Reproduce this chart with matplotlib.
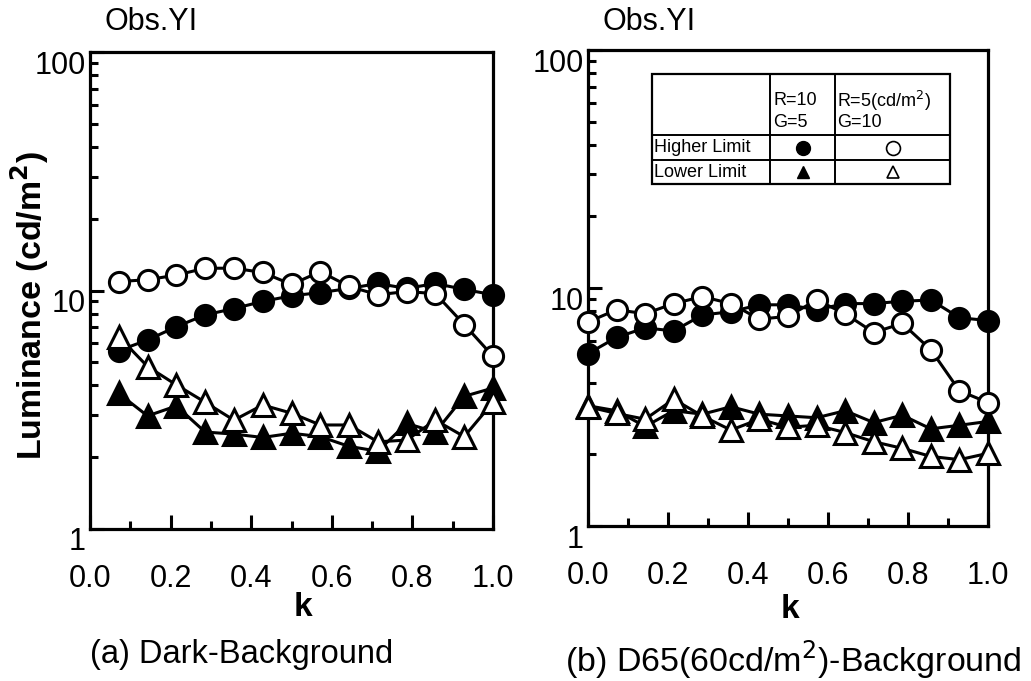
import matplotlib
matplotlib.use("Agg")
import matplotlib.pyplot as plt
import matplotlib.transforms as mtransforms
from matplotlib.ticker import LogLocator, MultipleLocator, FixedLocator, NullFormatter
import numpy as np

plt.rcParams['font.family'] = ['Liberation Sans', 'DejaVu Sans']

# ---------------- data ----------------
# (a) Dark background: k = 1/14 ... 14/14
k_a = [i / 14 for i in range(1, 15)]
a_high_R10G5 = [5.6, 6.2, 7.05, 7.9, 8.4, 9.0, 9.5, 9.8, 10.2, 10.7, 10.2, 10.7, 10.1, 9.6]
a_high_R5G10 = [10.9, 11.1, 11.6, 12.4, 12.4, 11.9, 10.6, 12.0, 10.4, 9.6, 9.9, 9.7, 7.2, 5.3]
a_low_R10G5 = [3.7, 2.98, 3.28, 2.55, 2.5, 2.42, 2.52, 2.44, 2.22, 2.12, 2.77, 2.55, 3.6, 3.9]
a_low_R5G10 = [6.4, 4.8, 4.02, 3.4, 2.86, 3.31, 3.06, 2.73, 2.73, 2.32, 2.36, 2.86, 2.44, 3.4]

# (b) D65 (60 cd/m2) background: k = 0/14 ... 14/14
k_b = [i / 14 for i in range(0, 15)]
b_high_R10G5 = [5.3, 6.2, 6.8, 6.6, 7.7, 7.95, 8.5, 8.5, 8.1, 8.6, 8.6, 8.8, 8.9, 7.5, 7.3]
b_high_R5G10 = [7.2, 8.1, 7.8, 8.6, 9.2, 8.6, 7.4, 7.6, 8.9, 7.8, 6.5, 7.1, 5.5, 3.7, 3.3]
b_low_R10G5 = [3.2, 3.05, 2.62, 3.05, 2.95, 3.17, 2.95, 2.9, 2.85, 3.05, 2.72, 2.92, 2.56, 2.65, 2.75]
b_low_R5G10 = [3.17, 2.97, 2.81, 3.41, 2.9, 2.53, 2.81, 2.6, 2.65, 2.47, 2.26, 2.12, 1.96, 1.9, 2.02]

x_ticks = [0.0, 0.2, 0.4, 0.6, 0.8, 1.0]
x_tick_labels = ["0.0", "0.2", "0.4", "0.6", "0.8", "1.0"]
y_ticks = [1, 10, 100]
y_tick_labels = ["1", "10", "100"]

title_text = "Obs.YI"
ylabel_text = "Luminance (cd/m$^\\mathbf{2}$)"
xlabel_text = "k"
caption_a = "(a) Dark-Background"
caption_b = "(b) D65(60cd/m$^2$)-Background"

W, H = 1031, 681
fig = plt.figure(figsize=(W / 100, H / 100), dpi=100)
fig.patch.set_facecolor("white")


def px_axes(x0, y0, x1, y1):
    return fig.add_axes([x0 / W, 1 - y1 / H, (x1 - x0) / W, (y1 - y0) / H])


ax_a = px_axes(90, 52, 493, 529)
ax_b = px_axes(588, 50, 988, 526)

LW = 2.2
MS_C = 14.5
MS_T = 16
MEW = 2.2


def style_axes(ax):
    ax.set_yscale("log")
    ax.set_ylim(1, 100)
    ax.set_xlim(0, 1.0)
    ax.xaxis.set_major_locator(FixedLocator(x_ticks))
    ax.xaxis.set_minor_locator(MultipleLocator(0.1))
    ax.set_xticklabels(x_tick_labels)
    ax.yaxis.set_major_locator(FixedLocator(y_ticks))
    ax.yaxis.set_minor_locator(LogLocator(base=10, subs=np.arange(2, 10)))
    ax.yaxis.set_minor_formatter(NullFormatter())
    ax.set_yticklabels(y_tick_labels)
    for s in ax.spines.values():
        s.set_linewidth(2.3)
    ax.tick_params(which="both", direction="in", top=False, right=False, width=2.2)
    ax.tick_params(which="major", length=10)
    ax.tick_params(which="minor", length=6)
    ax.tick_params(axis="x", which="major", pad=25, labelsize=22)
    ax.tick_params(axis="y", which="major", pad=3, labelsize=22)
    off = mtransforms.ScaledTranslation(0, -10 / 100, fig.dpi_scale_trans)
    for lab in ax.get_yticklabels():
        lab.set_transform(lab.get_transform() + off)


def draw_series(ax, k, hi_f, hi_o, lo_f, lo_o):
    ax.plot(k, hi_f, "-", color="black", lw=LW, marker="o", ms=MS_C,
            mfc="black", mec="black", mew=MEW, zorder=3)
    ax.plot(k, lo_f, "-", color="black", lw=LW, marker="^", ms=MS_T,
            mfc="black", mec="black", mew=MEW, zorder=4)
    ax.plot(k, lo_o, "-", color="black", lw=LW, marker="^", ms=MS_T,
            mfc="white", mec="black", mew=MEW, zorder=5)
    ax.plot(k, hi_o, "-", color="black", lw=LW, marker="o", ms=MS_C,
            mfc="white", mec="black", mew=MEW, zorder=6)


for ax in (ax_a, ax_b):
    style_axes(ax)

draw_series(ax_a, k_a, a_high_R10G5, a_high_R5G10, a_low_R10G5, a_low_R5G10)
draw_series(ax_b, k_b, b_high_R10G5, b_high_R5G10, b_low_R10G5, b_low_R5G10)
for ax in (ax_a, ax_b):
    for ln in ax.lines:
        ln.set_clip_on(False)

# legend table inside panel (b)
T = ax_b.transAxes
bx0, bx1, by0, by1 = 0.16, 0.905, 0.718, 0.950
c1, c2 = 0.455, 0.6175
r1, r2 = 0.821, 0.769
ax_b.add_patch(plt.Rectangle((bx0, by0), bx1 - bx0, by1 - by0, transform=T,
                             facecolor="white", edgecolor="black", lw=1.6, zorder=10))
for xx in (c1, c2):
    ax_b.plot([xx, xx], [by0, by1], transform=T, color="black", lw=1.4, zorder=11)
for yy in (r1, r2):
    ax_b.plot([bx0, bx1], [yy, yy], transform=T, color="black", lw=1.4, zorder=11)
fs_t = 13
ax_b.text(c1 + 0.009, 0.893, "R=10", transform=T, fontsize=fs_t, va="center", ha="left", zorder=12)
ax_b.text(c1 + 0.009, 0.848, "G=5", transform=T, fontsize=fs_t, va="center", ha="left", zorder=12)
ax_b.text(c2 + 0.005, 0.893, "R=5(cd/m$^2$)", transform=T, fontsize=fs_t, va="center", ha="left", zorder=12)
ax_b.text(c2 + 0.005, 0.848, "G=10", transform=T, fontsize=fs_t, va="center", ha="left", zorder=12)
ax_b.text(bx0 + 0.005, (r1 + r2) / 2, "Higher Limit", transform=T, fontsize=fs_t, va="center", ha="left", zorder=12)
ax_b.text(bx0 + 0.005, (r2 + by0) / 2, "Lower Limit", transform=T, fontsize=fs_t, va="center", ha="left", zorder=12)
mc2 = (c1 + c2) / 2
mc3 = (c2 + bx1) / 2
ax_b.plot([mc2], [(r1 + r2) / 2], transform=T, marker="o", ms=10, mfc="black", mec="black", zorder=12)
ax_b.plot([mc3], [(r1 + r2) / 2], transform=T, marker="o", ms=10, mfc="white", mec="black", mew=1.2, zorder=12)
ax_b.plot([mc2], [(r2 + by0) / 2], transform=T, marker="^", ms=9, mfc="black", mec="black", zorder=12)
ax_b.plot([mc3], [(r2 + by0) / 2], transform=T, marker="^", ms=9, mfc="white", mec="black", mew=1.2, zorder=12)

# texts
fig.text(105 / W, 1 - 22 / H, title_text, fontsize=22, ha="left", va="center")
fig.text(603 / W, 1 - 22 / H, title_text, fontsize=22, ha="left", va="center")
fig.text(30 / W, 1 - 305 / H, ylabel_text, fontsize=24.5, fontweight="bold",
         rotation=90, ha="center", va="center")
fig.text(303 / W, 1 - 607 / H, xlabel_text, fontsize=24, fontweight="bold", ha="center", va="center")
fig.text(790 / W, 1 - 610 / H, xlabel_text, fontsize=24, fontweight="bold", ha="center", va="center")
fig.text(242 / W, 1 - 655 / H, caption_a, fontsize=23.5, ha="center", va="center")
fig.text(793 / W, 1 - 660 / H, caption_b, fontsize=24.5, ha="center", va="center")

fig.savefig("out.png", dpi=100)
